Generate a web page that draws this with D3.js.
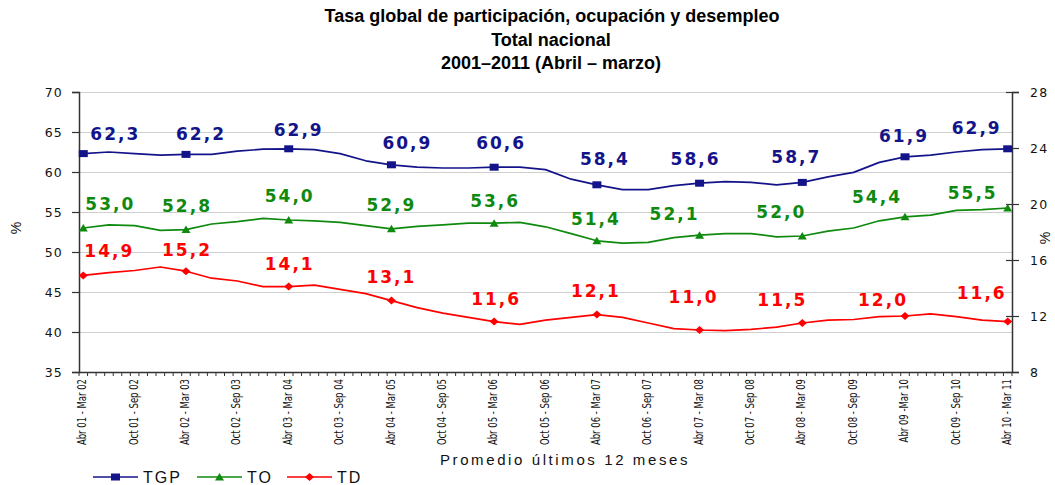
<!DOCTYPE html>
<html lang="es">
<head>
<meta charset="utf-8">
<title>Tasa global de participación, ocupación y desempleo</title>
<script src="https://cdn.jsdelivr.net/npm/d3@7/dist/d3.min.js"></script>
<style>
  html, body { margin: 0; padding: 0; background: #ffffff; }
  svg { display: block; }
</style>
</head>
<body>
<svg id="chart" width="1055" height="485"></svg>
<script>
// Semi-annual tick labels (rolling 12-month windows), one every 6 months
const tickLabels = [
  "Abr 01 - Mar 02", "Oct 01 - Sep 02", "Abr 02 - Mar 03", "Oct 02 - Sep 03",
  "Abr 03 - Mar 04", "Oct 03 - Sep 04", "Abr 04 - Mar 05", "Oct 04 - Sep 05",
  "Abr 05 - Mar 06", "Oct 05 - Sep 06", "Abr 06 - Mar 07", "Oct 06 - Sep 07",
  "Abr 07 - Mar 08", "Oct 07 - Sep 08", "Abr 08 - Mar 09", "Oct 08 - Sep 09",
  "Abr 09 -Mar 10", "Oct 09 - Sep 10", "Abr 10 - Mar 11"
];
const tickMonths = [0, 6, 12, 18, 24, 30, 36, 42, 48, 54, 60, 66, 72, 78, 84, 90, 96, 102, 108];

// Window offset in months from "Abr 01 - Mar 02" for each quarterly reading
const months = [0, 3, 6, 9, 12, 15, 18, 21, 24, 27, 30, 33, 36, 39, 42, 45, 48, 51, 54,
                57, 60, 63, 66, 69, 72, 75, 78, 81, 84, 87, 90, 93, 96, 99, 102, 105, 108];

// Tasa global de participación (%)
const tgp = [62.3, 62.5, 62.3, 62.1, 62.2, 62.2, 62.6, 62.85, 62.9, 62.8, 62.3, 61.4, 60.9,
             60.6, 60.5, 60.5, 60.6, 60.6, 60.3, 59.1, 58.4, 57.8, 57.8, 58.3, 58.6, 58.8,
             58.7, 58.4, 58.7, 59.4, 59.95, 61.2, 61.9, 62.1, 62.5, 62.8, 62.9];
// Tasa de ocupación (%)
const to = [53.0, 53.4, 53.3, 52.7, 52.8, 53.5, 53.8, 54.2, 54.0, 53.9, 53.7, 53.3, 52.9,
            53.2, 53.4, 53.6, 53.6, 53.7, 53.15, 52.3, 51.4, 51.1, 51.2, 51.8, 52.1, 52.3,
            52.3, 51.9, 52.0, 52.6, 53.0, 53.9, 54.4, 54.6, 55.2, 55.3, 55.5];
// Tasa de desempleo (%), eje derecho
const td = [14.9, 15.1, 15.25, 15.5, 15.2, 14.7, 14.5, 14.1, 14.1, 14.2, 13.9, 13.6, 13.1,
            12.6, 12.2, 11.9, 11.6, 11.4, 11.7, 11.9, 12.1, 11.9, 11.5, 11.1, 11.0, 10.95,
            11.05, 11.2, 11.5, 11.7, 11.75, 11.95, 12.0, 12.15, 11.95, 11.7, 11.6];

// Months that carry a marker and a value label (each April–March year)
const labelMonths = [0, 12, 24, 36, 48, 60, 72, 84, 96, 108];

const leftTicks = [35, 40, 45, 50, 55, 60, 65, 70];
const rightTicks = [8, 12, 16, 20, 24, 28];

// Hand-placed offsets of each value label from its marker, [dx, dy]
const tgpNudge = [[32,-20],[15,-21],[10,-19],[16,-22],[7,-24],[8,-26],[-4,-24],[-6,-26],[-1,-21],[-31,-21]];
const toNudge  = [[27,-24],[1,-24],[1,-24],[0,-24],[1,-22],[-1,-22],[-25,-21],[-21,-24],[-28,-20],[-35,-15]];
const tdNudge  = [[26,-25],[1,-21],[1,-23],[0,-24],[2,-23],[-1,-24],[-6,-33],[-20,-23],[-22,-16],[-26,-29]];

const svg = d3.select("#chart");
const plot = { left: 79, right: 1012, top: 92, bottom: 372 };

const x = d3.scaleLinear().domain([-0.5, 108.5]).range([plot.left, plot.right]);
const yL = d3.scaleLinear().domain([35, 70]).range([plot.bottom, plot.top]);
const yR = d3.scaleLinear().domain([8, 28]).range([plot.bottom, plot.top]);

const fmt = v => d3.format(".1f")(v).replace(".", ",");

// Title
const title = svg.append("g")
  .attr("font-family", "'Liberation Sans', Arial, sans-serif")
  .attr("font-weight", "bold")
  .attr("font-size", 18)
  .attr("text-anchor", "middle")
  .attr("fill", "#000");
title.append("text").attr("x", 552).attr("y", 22).text("Tasa global de participación, ocupación y desempleo");
title.append("text").attr("x", 551).attr("y", 46).text("Total nacional");
title.append("text").attr("x", 551).attr("y", 69).text("2001\u20132011 (Abril \u2013 marzo)");

// Horizontal gridlines
svg.append("g")
  .selectAll("line")
  .data(leftTicks.filter(t => t > 35))
  .join("line")
  .attr("x1", plot.left).attr("x2", plot.right)
  .attr("y1", d => Math.round(yL(d)) + 0.5).attr("y2", d => Math.round(yL(d)) + 0.5)
  .attr("stroke", "#cfcfcf").attr("stroke-width", 1.2);

// Left axis
const axisL = svg.append("g")
  .attr("transform", `translate(${plot.left},0)`)
  .call(d3.axisLeft(yL).tickValues(leftTicks).tickSize(7).tickPadding(9).tickFormat(d3.format("d")));
axisL.select(".domain").attr("stroke", "#333").attr("stroke-width", 1.5);
axisL.selectAll(".tick line").attr("stroke", "#333").attr("stroke-width", 1.2);
axisL.selectAll("text")
  .attr("font-family", "'DejaVu Sans', Verdana, sans-serif")
  .attr("font-size", 12.5).attr("letter-spacing", 1.2).attr("fill", "#111");

// Right axis (TD)
const axisR = svg.append("g")
  .attr("transform", `translate(${plot.right},0)`)
  .call(d3.axisRight(yR).tickValues(rightTicks).tickSize(7).tickPadding(11).tickFormat(d3.format("d")));
axisR.select(".domain").attr("stroke", "#333").attr("stroke-width", 1.5);
axisR.selectAll(".tick line").attr("stroke", "#333").attr("stroke-width", 1.2).attr("x1", -6);
axisR.selectAll("text")
  .attr("font-family", "'DejaVu Sans', Verdana, sans-serif")
  .attr("font-size", 12.5).attr("letter-spacing", 1.2).attr("fill", "#111");

// Bottom axis: monthly tick marks between categories, labels every 6 months
const minorTicks = d3.range(-0.5, 109, 1);
svg.append("g")
  .selectAll("line")
  .data(minorTicks)
  .join("line")
  .attr("x1", d => x(d)).attr("x2", d => x(d))
  .attr("y1", plot.bottom).attr("y2", plot.bottom + 4)
  .attr("stroke", "#333").attr("stroke-width", 1);
svg.append("line")
  .attr("x1", plot.left).attr("x2", plot.right)
  .attr("y1", plot.bottom + 0.5).attr("y2", plot.bottom + 0.5)
  .attr("stroke", "#333").attr("stroke-width", 1.5);

// Rotated, condensed period labels
svg.append("g")
  .selectAll("text")
  .data(tickLabels)
  .join("text")
  .attr("transform", (d, i) => `translate(${x(tickMonths[i]) - 1},${plot.bottom + 7}) rotate(-90) scale(0.8,1)`)
  .attr("text-anchor", "end")
  .attr("dy", "0.35em")
  .attr("font-family", "'Liberation Sans Narrow', 'DejaVu Sans Condensed', 'Arial Narrow', sans-serif")
  .attr("font-size", 11.8)
  .attr("fill", "#111")
  .text(d => d);

// Axis titles
svg.append("text")
  .attr("x", 565).attr("y", 465)
  .attr("text-anchor", "middle")
  .attr("font-family", "'Liberation Sans', Arial, sans-serif")
  .attr("font-size", 15).attr("letter-spacing", 2.6)
  .attr("fill", "#111")
  .text("Promedio últimos 12 meses");

svg.append("text")
  .attr("transform", "translate(16,228) rotate(-90)")
  .attr("text-anchor", "middle").attr("dy", "0.35em")
  .attr("font-family", "'Liberation Sans', Arial, sans-serif")
  .attr("font-size", 14).attr("fill", "#111")
  .text("%");
svg.append("text")
  .attr("transform", "translate(1045,238) rotate(-90)")
  .attr("text-anchor", "middle").attr("dy", "0.35em")
  .attr("font-family", "'Liberation Sans', Arial, sans-serif")
  .attr("font-size", 14).attr("fill", "#111")
  .text("%");

// Series
const series = [
  { name: "TGP", values: tgp, y: yL, color: "#14148a", nudge: tgpNudge },
  { name: "TO",  values: to,  y: yL, color: "#0f8a0f", nudge: toNudge },
  { name: "TD",  values: td,  y: yR, color: "#ff0000", nudge: tdNudge }
];

function drawMarker(g, s, cx, cy) {
  if (s.name === "TGP") {
    g.append("rect").attr("x", cx - 4.5).attr("y", cy - 3.5).attr("width", 9).attr("height", 7)
      .attr("fill", s.color);
  } else if (s.name === "TO") {
    g.append("path").attr("d", `M${cx - 4.5},${cy + 3.5}L${cx + 4.5},${cy + 3.5}L${cx},${cy - 4}Z`)
      .attr("fill", s.color);
  } else {
    g.append("path").attr("d", `M${cx - 4.5},${cy}L${cx},${cy - 4}L${cx + 4.5},${cy}L${cx},${cy + 4}Z`)
      .attr("fill", s.color);
  }
}

series.forEach(s => {
  const pts = months.map((m, i) => [m, s.values[i]]);
  const line = d3.line().x(d => x(d[0])).y(d => s.y(d[1]));
  svg.append("path")
    .datum(pts)
    .attr("d", line)
    .attr("fill", "none")
    .attr("stroke", s.color)
    .attr("stroke-width", 1.7)
    .attr("stroke-linejoin", "round");

  const mg = svg.append("g");
  labelMonths.forEach((m, k) => {
    const v = s.values[months.indexOf(m)];
    const cx = x(m), cy = s.y(v);
    drawMarker(mg, s, cx, cy);
    mg.append("text")
      .attr("x", cx + s.nudge[k][0]).attr("y", cy + s.nudge[k][1])
      .attr("text-anchor", "middle").attr("dy", "0.36em")
      .attr("font-family", "'DejaVu Sans', Verdana, sans-serif")
      .attr("font-weight", "bold").attr("font-size", 17).attr("letter-spacing", 2)
      .attr("fill", s.color)
      .text(fmt(v));
  });
});

// Legend
const legendItems = [
  { s: series[0], x0: 93, x1: 138, tx: 143 },
  { s: series[1], x0: 197, x1: 242, tx: 247 },
  { s: series[2], x0: 287, x1: 332, tx: 337 }
];
const lg = svg.append("g");
legendItems.forEach(it => {
  const ly = 477;
  lg.append("line").attr("x1", it.x0).attr("x2", it.x1).attr("y1", ly).attr("y2", ly)
    .attr("stroke", it.s.color).attr("stroke-width", 1.7);
  drawMarker(lg, it.s, (it.x0 + it.x1) / 2, ly);
  lg.append("text").attr("x", it.tx).attr("y", ly).attr("dy", "0.36em")
    .attr("font-family", "'Liberation Sans', Arial, sans-serif")
    .attr("font-size", 16).attr("letter-spacing", 2).attr("fill", "#111")
    .text(it.s.name);
});
</script>
</body>
</html>
